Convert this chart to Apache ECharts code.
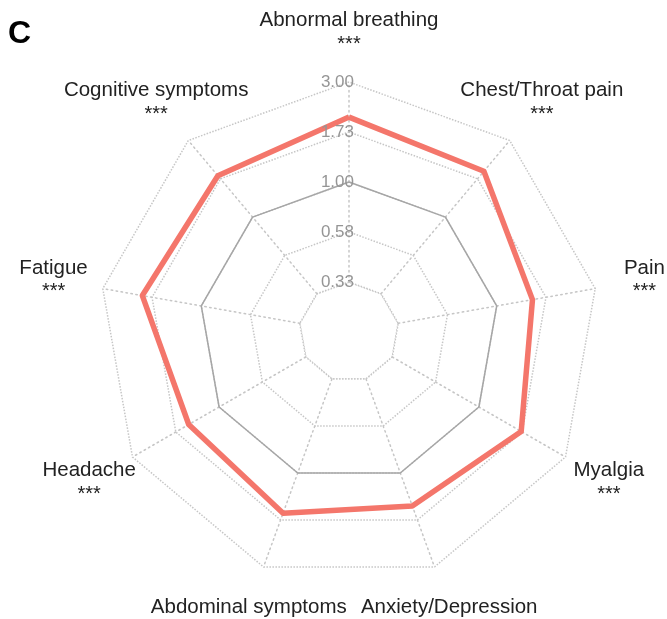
<!DOCTYPE html>
<html><head><meta charset="utf-8">
<script src="https://cdn.jsdelivr.net/npm/echarts@6/dist/echarts.min.js"></script>
<style>html,body{margin:0;padding:0;background:#fff}#c{width:667px;height:619px}</style>
</head><body><div id="c"></div>
<script>
// Data (clockwise from top, as in the figure)
const categories = ['Abnormal breathing','Chest/Throat pain','Pain','Myalgia','Anxiety/Depression','Abdominal symptoms','Headache','Fatigue','Cognitive symptoms'];
const significance = ['***','***','***','***','','','***','***','***'];
const ratioValues = [2.04,1.93,1.49,1.71,1.47,1.60,1.47,1.93,1.81];
const referenceValues = [1,1,1,1,1,1,1,1,1];
const tickLabels = ['0.33','0.58','1.00','1.73','3.00'];
const innerRingValue = 0.33;

// log-3 scale: centre = 3^-1.5, outer ring = 3^1
const toScale = v => Math.log(v) / Math.log(3) + 1.5;
const SCALE_MAX = 2.5;

// ECharts places indicators counter-clockwise; reorder to get clockwise layout
const order = [0].concat(categories.map((_, i) => i).slice(1).reverse());
const FONT = '"Liberation Sans", Arial, Helvetica, sans-serif';
const GRID = '#c6c6c6';
const CENTER = [349, 332], RADIUS = 250;

const gridIndicator = order.map(i => {
  const ind = { name: categories[i], min: 0, max: SCALE_MAX };
  if (!significance[i]) ind.nameGap = 43;
  return ind;
});
const labelIndicator = order.map((i, k) => {
  const ind = { name: categories[i], min: 0, max: SCALE_MAX };
  if (k === 0) {
    ind.axisLabel = {
      show: true, color: '#959595', fontSize: 17, fontFamily: FONT, margin: -5,
      formatter: val => {
        const idx = Math.round(val * 2) - 1;
        return idx >= 0 && idx < tickLabels.length ? tickLabels[idx] : '';
      }
    };
  }
  return ind;
});

const chart = echarts.init(document.getElementById('c'), null, { renderer: 'canvas' });
chart.setOption({
  animation: false,
  backgroundColor: '#ffffff',
  title: { text: 'C', left: 3, top: 13, textStyle: { fontSize: 32, fontWeight: 'bold', color: '#000', fontFamily: FONT } },
  radar: [{
    z: 0,
    center: CENTER,
    radius: RADIUS,
    shape: 'polygon',
    splitNumber: 5,
    nameGap: 50,
    axisName: {
      color: '#222', fontSize: 20.5, fontFamily: FONT, align: 'center', verticalAlign: 'middle',
      formatter: (name) => {
        const s = significance[categories.indexOf(name)];
        return '{n|' + name + '}' + (s ? '\n{s|' + s + '}' : '');
      },
      rich: {
        n: { fontSize: 20.5, lineHeight: 24, align: 'center', color: '#222', fontFamily: FONT },
        s: { fontSize: 20, lineHeight: 24, align: 'center', color: '#222', fontFamily: FONT }
      }
    },
    axisLine: { show: true, lineStyle: { type: [1.5, 3.5], color: GRID, width: 1.5 } },
    splitLine: { show: true, lineStyle: { type: 'dotted', color: GRID, width: 1.5 } },
    splitArea: { show: false },
    axisTick: { show: false },
    axisLabel: { show: false },
    indicator: gridIndicator
  }, {
    z: 10,
    center: CENTER,
    radius: RADIUS,
    shape: 'polygon',
    splitNumber: 5,
    axisName: { show: false },
    axisLine: { show: false },
    splitLine: { show: false },
    splitArea: { show: false },
    axisTick: { show: false },
    axisLabel: { show: false },
    indicator: labelIndicator
  }],
  series: [{
    type: 'radar',
    radarIndex: 0,
    z: 2,
    silent: true,
    symbol: 'none',
    data: [
      { value: order.map(() => toScale(innerRingValue)), lineStyle: { type: 'dotted', color: GRID, width: 1.5 }, areaStyle: { color: '#ffffff', opacity: 1 } },
      { value: order.map(i => toScale(referenceValues[i])), lineStyle: { color: '#a6a6a6', width: 1.5 }, itemStyle: { color: '#a6a6a6' } },
      { value: order.map(i => toScale(ratioValues[i])), lineStyle: { color: '#F4766B', width: 5.5 }, itemStyle: { color: '#F4766B' } }
    ]
  }]
});
</script></body></html>
